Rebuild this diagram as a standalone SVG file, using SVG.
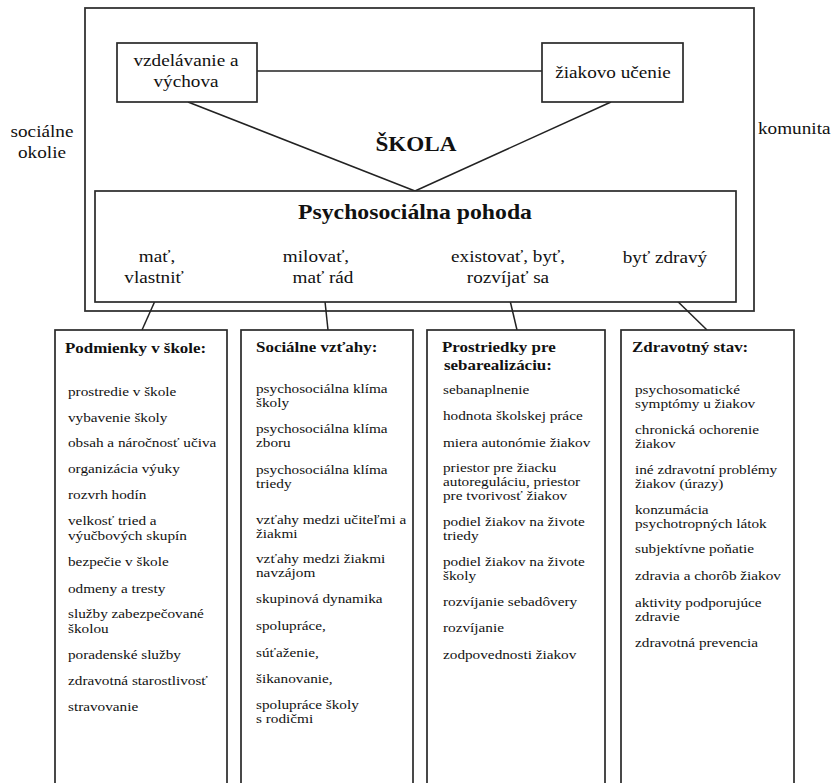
<svg xmlns="http://www.w3.org/2000/svg" width="834" height="783" viewBox="0 0 834 783">
<style>
text{font-family:'Liberation Serif','DejaVu Serif',serif;fill:#111;transform-box:fill-box;transform:scaleX(1.13)}
.m{text-anchor:middle;transform-origin:center}
.l{text-anchor:start;transform-origin:left}
.lab{font-size:17px}
.b{font-weight:bold}
.it{font-size:13.5px}
.hd{font-size:15px;font-weight:bold}
.box{fill:#fff;stroke:#2a2a2a;stroke-width:1.7}
.ln{stroke:#222;stroke-width:1.5;fill:none}
</style>
<rect width="834" height="783" fill="#fff"/>
<g id="outer">
<rect x="85" y="8" width="669" height="303" fill="none" stroke="#333" stroke-width="1.8"/>
<text class="lab m" x="42" y="137">sociálne</text>
<text class="lab m" x="42" y="158">okolie</text>
<text class="lab l" x="758" y="134">komunita</text>
<text class="m b" x="416" y="151" style="font-size:20.5px">ŠKOLA</text>
</g>
<g id="connectors">
<line class="ln" x1="257" y1="71" x2="542" y2="71"/>
<line class="ln" x1="188" y1="102" x2="415" y2="191"/>
<line class="ln" x1="611" y1="102" x2="415" y2="191"/>
<line class="ln" x1="159" y1="292" x2="142" y2="330"/>
<line class="ln" x1="324" y1="292" x2="328" y2="330"/>
<line class="ln" x1="508" y1="292" x2="517" y2="330"/>
<line class="ln" x1="668" y1="292" x2="707" y2="330"/>
</g>
<g id="vzdelavanie">
<rect class="box" x="117" y="43" width="140" height="59"/>
<text class="lab m" x="186" y="66">vzdelávanie a</text>
<text class="lab m" x="186" y="87">výchova</text>
</g>
<g id="ucenie">
<rect class="box" x="542" y="43" width="141" height="59"/>
<text class="lab m" x="613" y="78">žiakovo učenie</text>
</g>
<g id="pohoda">
<rect class="box" x="95" y="191" width="641" height="111"/>
<text class="m b" x="415" y="219" style="font-size:21px">Psychosociálna pohoda</text>
<text class="lab m" x="157" y="262">mať,</text>
<text class="lab m" x="154" y="283">vlastniť</text>
<text class="lab m" x="316" y="262">milovať,</text>
<text class="lab m" x="323" y="283">mať rád</text>
<text class="lab m" x="508" y="262">existovať, byť,</text>
<text class="lab m" x="508" y="283">rozvíjať sa</text>
<text class="lab m" x="665" y="263">byť zdravý</text>
</g>
<g id="podmienky">
<rect class="box" x="55" y="330" width="172" height="470"/>
<text class="hd l" x="65" y="353">Podmienky v škole:</text>
<text class="it l" x="68" y="396">prostredie v škole</text>
<text class="it l" x="68" y="422">vybavenie školy</text>
<text class="it l" x="68" y="447">obsah a náročnosť učiva</text>
<text class="it l" x="68" y="473">organizácia výuky</text>
<text class="it l" x="68" y="499">rozvrh hodín</text>
<text class="it l" x="68" y="525">velkosť tried a</text>
<text class="it l" x="68" y="540">výučbových skupín</text>
<text class="it l" x="68" y="566">bezpečie v škole</text>
<text class="it l" x="68" y="593">odmeny a tresty</text>
<text class="it l" x="68" y="618">služby zabezpečované</text>
<text class="it l" x="68" y="633">školou</text>
<text class="it l" x="68" y="659">poradenské služby</text>
<text class="it l" x="68" y="685">zdravotná starostlivosť</text>
<text class="it l" x="68" y="711">stravovanie</text>
</g>
<g id="vztahy">
<rect class="box" x="241" y="330" width="172" height="470"/>
<text class="hd l" x="256" y="352">Sociálne vzťahy:</text>
<text class="it l" x="256" y="393.5">psychosociálna klíma</text>
<text class="it l" x="256" y="407.5">školy</text>
<text class="it l" x="256" y="433.5">psychosociálna klíma</text>
<text class="it l" x="256" y="447.5">zboru</text>
<text class="it l" x="256" y="474">psychosociálna klíma</text>
<text class="it l" x="256" y="488">triedy</text>
<text class="it l" x="256" y="524">vzťahy medzi učiteľmi a</text>
<text class="it l" x="256" y="538">žiakmi</text>
<text class="it l" x="256" y="563.5">vzťahy medzi žiakmi</text>
<text class="it l" x="256" y="577.5">navzájom</text>
<text class="it l" x="256" y="603.5">skupinová dynamika</text>
<text class="it l" x="256" y="630.5">spolupráce,</text>
<text class="it l" x="256" y="657">súťaženie,</text>
<text class="it l" x="256" y="683.5">šikanovanie,</text>
<text class="it l" x="256" y="709.5">spolupráce školy</text>
<text class="it l" x="256" y="723.5">s rodičmi</text>
</g>
<g id="prostriedky">
<rect class="box" x="427" y="330" width="178" height="470"/>
<text class="hd l" x="442" y="352">Prostriedky pre</text>
<text class="hd l" x="444" y="370">sebarealizáciu:</text>
<text class="it l" x="443" y="394.5">sebanaplnenie</text>
<text class="it l" x="443" y="420.5">hodnota školskej práce</text>
<text class="it l" x="443" y="447.5">miera autonómie žiakov</text>
<text class="it l" x="443" y="472.5">priestor pre žiacku</text>
<text class="it l" x="443" y="486.5">autoreguláciu, priestor</text>
<text class="it l" x="443" y="500.5">pre tvorivosť žiakov</text>
<text class="it l" x="443" y="526.5">podiel žiakov na živote</text>
<text class="it l" x="443" y="540.5">triedy</text>
<text class="it l" x="443" y="566.5">podiel žiakov na živote</text>
<text class="it l" x="443" y="580.5">školy</text>
<text class="it l" x="443" y="606.5">rozvíjanie sebadôvery</text>
<text class="it l" x="443" y="632.5">rozvíjanie</text>
<text class="it l" x="443" y="659.5">zodpovednosti žiakov</text>
</g>
<g id="zdravotny">
<rect class="box" x="621" y="330" width="173" height="470"/>
<text class="hd l" x="632" y="352">Zdravotný stav:</text>
<text class="it l" x="635" y="394.5">psychosomatické</text>
<text class="it l" x="635" y="408.5">symptómy u žiakov</text>
<text class="it l" x="635" y="434">chronická ochorenie</text>
<text class="it l" x="635" y="448">žiakov</text>
<text class="it l" x="635" y="474">iné zdravotní problémy</text>
<text class="it l" x="635" y="488">žiakov (úrazy)</text>
<text class="it l" x="635" y="514">konzumácia</text>
<text class="it l" x="635" y="528">psychotropných látok</text>
<text class="it l" x="635" y="553.5">subjektívne poňatie</text>
<text class="it l" x="635" y="580.5">zdravia a chorôb žiakov</text>
<text class="it l" x="635" y="607">aktivity podporujúce</text>
<text class="it l" x="635" y="621">zdravie</text>
<text class="it l" x="635" y="647.5">zdravotná prevencia</text>
</g>
</svg>
